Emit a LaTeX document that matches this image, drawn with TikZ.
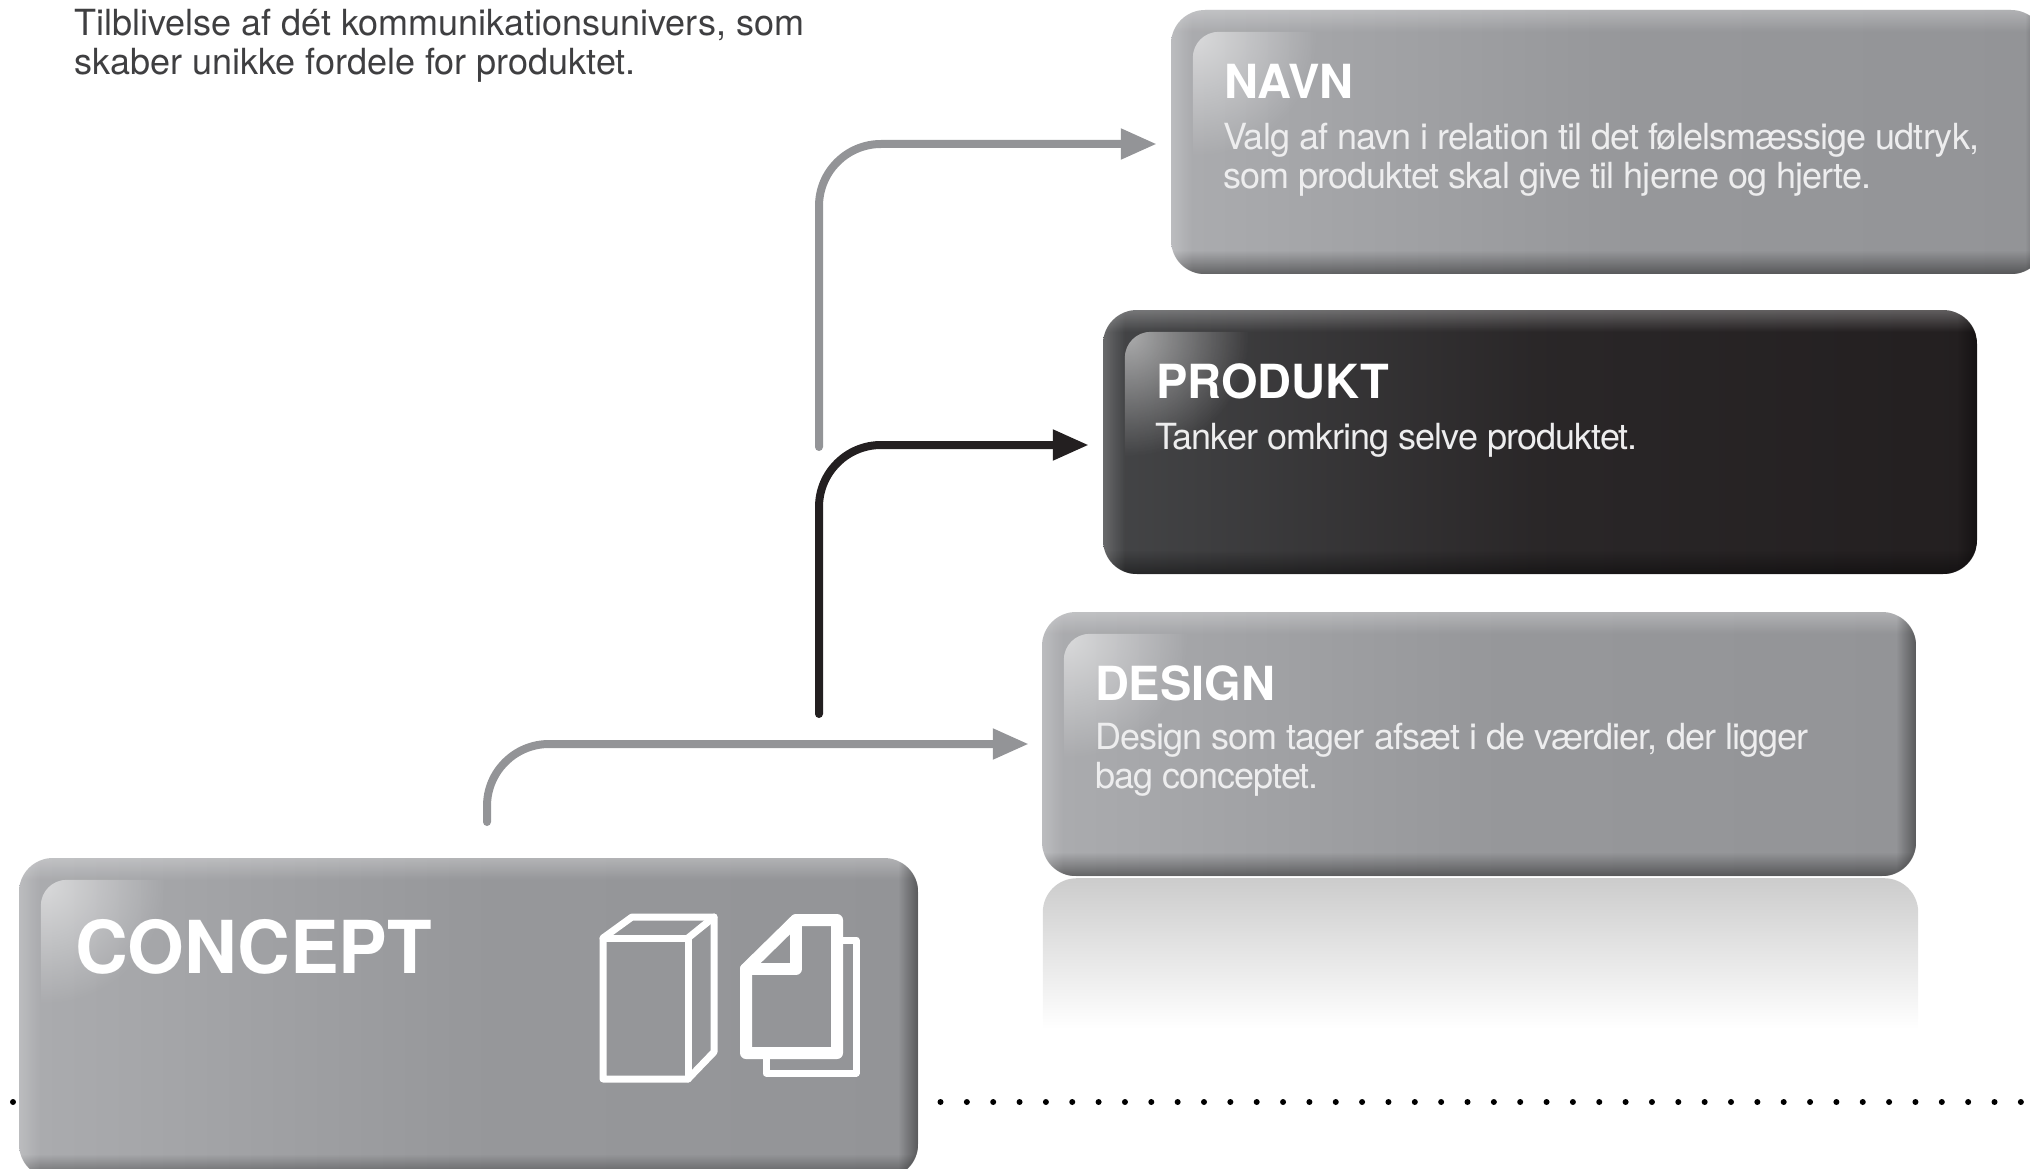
\documentclass[tikz,border=0pt]{standalone}
\usepackage{fontspec}
\setmainfont{TeX Gyre Heros}
\newfontfamily\tightfont[LetterSpace=-2.6]{TeX Gyre Heros}
\usepackage{tikz}
\usetikzlibrary{arrows.meta}
\usetikzlibrary{positioning}
\usetikzlibrary{fadings}

\definecolor{greylight}{HTML}{ABACAF}
\definecolor{greybase}{HTML}{939497}
\definecolor{darklight}{HTML}{444547}
\definecolor{darkbase}{HTML}{231F20}
\definecolor{introtext}{HTML}{3F3F41}
\definecolor{bodytext}{HTML}{EDEDEE}

\tikzfading[name=fadedown, top color=transparent!0, bottom color=transparent!100]
\tikzfading[name=fadeup, bottom color=transparent!0, top color=transparent!100]
\tikzfading[name=faderight, left color=transparent!0, right color=transparent!100]
\tikzfading[name=fadeleft, right color=transparent!0, left color=transparent!100]
\tikzfading[name=fadecorner, inner color=transparent!0, outer color=transparent!100]

\tikzset{
    keybox/.style={rectangle, rounded corners=34pt, minimum width=874pt, minimum height=264pt, inner sep=0pt},
    greybox/.style={keybox, left color=greylight, right color=greybase, middle color=greybase!85!greylight},
    darkbox/.style={keybox, left color=darklight, right color=darkbase, middle color=darkbase!80!darklight},
    keytitle/.style={anchor=base west, inner sep=0pt, text=white, font=\fontsize{47}{47}\selectfont\bfseries},
    keybody/.style={anchor=north west, inner sep=0pt, align=left, text=bodytext, font=\fontsize{36}{39}\selectfont\tightfont},
    icon/.style={draw=white, line join=round, line cap=round},
    flow/.style={->, line width=8pt, line cap=round, rounded corners=62pt, shorten >=14pt}
}

% bevel bands and the corner shine of one box
\newcommand{\keyshade}[1]{
    \begin{scope}
        \clip[rounded corners=34pt] (#1.south west) rectangle (#1.north east);
        \fill[white, opacity=.28, path fading=fadedown] (#1.north west) rectangle ([yshift=-22pt]#1.north east);
        \fill[black, opacity=.42, path fading=fadeup] (#1.south west) rectangle ([yshift=24pt]#1.south east);
        \fill[white, opacity=.2, path fading=faderight] (#1.north west) rectangle ([xshift=22pt]#1.south west);
        \fill[black, opacity=.4, path fading=fadeleft] (#1.north east) rectangle ([xshift=-20pt]#1.south east);
        \clip[rounded corners=26pt] ([shift={(22pt,-22pt)}]#1.north west) rectangle +(300pt,-200pt);
        \fill[white, opacity=.55, path fading=fadecorner] ([shift={(26pt,-26pt)}]#1.north west) circle (120pt);
    \end{scope}
}

\begin{document}
\begin{tikzpicture}[x=1pt,y=-1pt,>={Triangle[length=36pt,width=29pt]}]
    \useasboundingbox (0,0) rectangle (2030,1169);

    % Dotted line
    \fill[black] (13,1102) circle (3);
    \foreach \i in {0,...,41}
        \fill[black] (940.5+\i*26.35,1102) circle (3);

    % Nodes
    \node [greybox, minimum width=899pt, minimum height=320pt] (concept) at (468.5,1018) {};
    \node [greybox] (design) at (1479,744) {};
    \node [darkbox, above of=design, node distance=302pt, xshift=61pt] (produkt) {};
    \node [greybox, above of=produkt, node distance=300pt, xshift=68pt] (navn) {};

    \keyshade{concept}
    \keyshade{design}
    \keyshade{produkt}
    \keyshade{navn}

    % Reflection
    \shade[top color=black!20, middle color=black!13, bottom color=white] ([shift={(1pt,-153pt)}]design.south west) [rounded corners=34pt] -- ([shift={(1pt,-2pt)}]design.south west) -- ([shift={(2pt,-2pt)}]design.south east) [sharp corners] -- ([shift={(2pt,-153pt)}]design.south east) -- cycle;

    % Texts
    \node [anchor=north west, inner sep=0pt, align=left, text=introtext, font=\fontsize{36}{39}\selectfont] (intro) at (74,9) {Tilblivelse af dét kommunikationsunivers, som\\skaber unikke fordele for produktet.};

    \node [keytitle, font=\fontsize{73}{73}\selectfont\bfseries] (conceptTitle) at ([shift={(56pt,-116pt)}]concept.north west) {CONCEPT};

    \node [keytitle] (designTitle) at ([shift={(53pt,-89pt)}]design.north west) {DESIGN};
    \node [keybody] (designBody) at ([shift={(53pt,-111pt)}]design.north west) {Design som tager afsæt i de værdier, der ligger\\bag conceptet.};

    \node [keytitle] (produktTitle) at ([shift={(53pt,-89pt)}]produkt.north west) {PRODUKT};
    \node [keybody] (produktBody) at ([shift={(52pt,-113pt)}]produkt.north west) {Tanker omkring selve produktet.};

    \node [keytitle] (navnTitle) at ([shift={(53pt,-89pt)}]navn.north west) {NAVN};
    \node [keybody] (navnBody) at ([shift={(52pt,-113pt)}]navn.north west) {Valg af navn i relation til det følelsmæssige udtryk,\\som produktet skal give til hjerne og hjerte.};

    % Icons
    \draw[icon, line width=7pt] (603,1079) -- (603,938) -- (632,917) -- (714,917) -- (714,1052) -- (688,1079) -- cycle;
    \draw[icon, line width=7pt] (603,938) -- (688,938) -- (688,1079);
    \draw[icon, line width=7pt] (688,938) -- (714,917);
    \draw[icon, line width=7pt] (842,940) -- (856,940) -- (856,1073) -- (766,1073) -- (766,1059);
    \draw[icon, line width=12pt] (746,1053) -- (746,969) -- (796,920) -- (837,920) -- (837,1053) -- cycle;
    \draw[icon, line width=12pt] (796,920) -- (796,969) -- (746,969);

    % Connections
    \coordinate (designStart) at (487,822);
    \coordinate (produktStart) at (819,714);
    \coordinate (navnStart) at (819,447);
    \draw [flow, draw=greybase, shorten >=13pt] (designStart) |- (design.west);
    \draw [flow, draw=darkbase] (produktStart) |- ([yshift=-3pt]produkt.west);
    \draw [flow, draw=greybase] (navnStart) |- ([yshift=-2pt]navn.west);

\end{tikzpicture}
\end{document}
